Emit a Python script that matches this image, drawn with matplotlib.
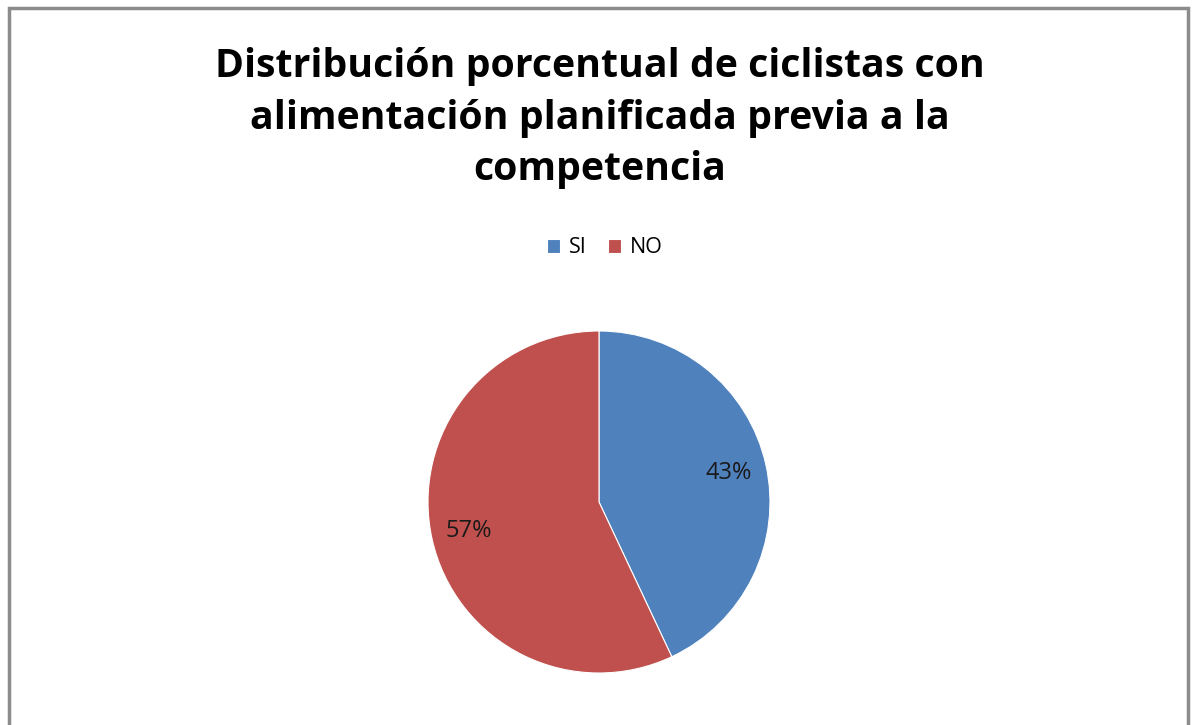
import matplotlib.pyplot as plt
from matplotlib.patches import Rectangle

# datos
categorias = ["SI", "NO"]
porcentajes = [43, 57]
colores = ["#4F81BD", "#C0504D"]
titulo = "Distribución porcentual de ciclistas con\nalimentación planificada previa a la\ncompetencia"

W, H = 1196, 725
fig = plt.figure(figsize=(W / 100, H / 100), dpi=100)
fig.patch.set_facecolor("white")

# marco gris del grafico (sin borde inferior visible)
fig.patches.append(Rectangle((9 / W, -0.05), (1188 - 9) / W, (H - 8) / H + 0.05,
                             transform=fig.transFigure, fill=False,
                             edgecolor="#8c8c8c", linewidth=2.5))

# titulo
fig.text(600 / W, 1 - 118 / H, titulo, ha="center", va="center",
         fontsize=28.3, fontweight="bold", family="Open Sans", linespacing=1.42)

# pastel
cx, cy, r = 599, 502, 171
ax = fig.add_axes([(cx - r) / W, 1 - (cy + r) / H, 2 * r / W, 2 * r / H])
wedges, textos, autotextos = ax.pie(
    porcentajes, colors=colores, startangle=90, counterclock=False,
    autopct="%d%%", pctdistance=0.78,
    wedgeprops=dict(edgecolor="white", linewidth=0.8),
    textprops=dict(fontsize=17, family="Open Sans", color="#1a1a1a"))
ax.set_xlim(-1, 1)
ax.set_ylim(-1, 1)
ax.set_aspect("equal")
ax.axis("off")

# leyenda
fig.legend(wedges, categorias, loc="center", bbox_to_anchor=(605 / W, 1 - 248 / H),
           ncol=2, frameon=False, handlelength=0.6, handleheight=0.6,
           handletextpad=0.4, columnspacing=1.0,
           prop=dict(family="Open Sans", size=15.5))

fig.savefig("out.png", dpi=100)
